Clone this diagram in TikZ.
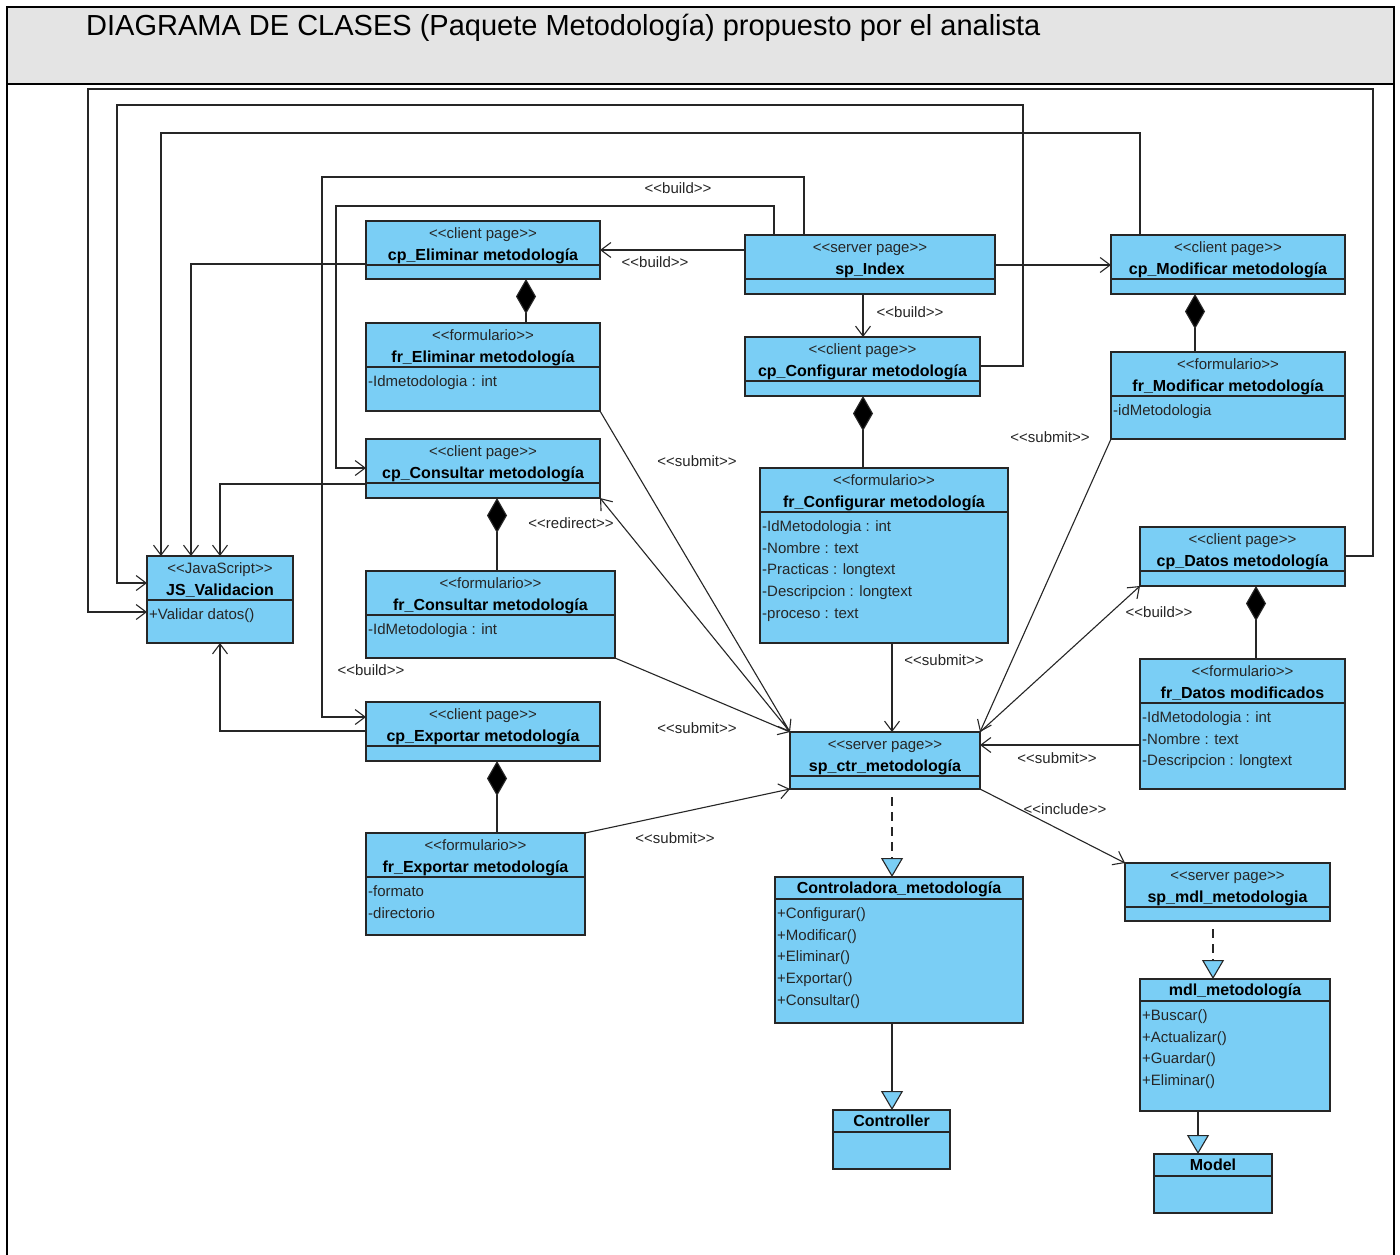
\documentclass[tikz,border=0pt]{standalone}
\usepackage{fontspec}
\setmainfont{Liberation Sans}
\usetikzlibrary{arrows.meta,calc}

\definecolor{classfill}{RGB}{122,206,245}
\definecolor{titlebar}{RGB}{228,228,228}
\definecolor{ink}{RGB}{38,38,38}

% stereotype brackets, kept as two separate angle brackets
\newcommand\guil[1]{<\kern0pt<#1>\kern0pt>}

\tikzset{
  classbox/.style={draw=ink, line width=1.4pt, fill=classfill, inner sep=0pt, outer sep=0pt},
  divline/.style={draw=ink, line width=1.2pt},
  stereo/.style={font=\fontsize{15}{18}\selectfont, anchor=base, inner sep=0pt, text=black!85},
  cname/.style={font=\fontsize{16}{19}\selectfont\bfseries, anchor=base, inner sep=0pt},
  member/.style={font=\fontsize{15}{18}\selectfont, anchor=base west, inner sep=0pt, text=black!85},
  conn/.style={draw=ink, line width=1.1pt},
  dep/.style={conn, -{Straight Barb[length=10pt,width=15pt,line width=1.1pt]}},
  comp/.style={conn, {Diamond[length=35pt,width=20pt,fill=black]}-},
  realize/.style={conn, dash pattern=on 9pt off 6pt, -{Triangle[fill=classfill,length=19pt,width=22pt,line width=1.1pt]}},
  general/.style={conn, -{Triangle[fill=classfill,length=19pt,width=22pt,line width=1.1pt]}},
  lbl/.style={font=\fontsize{15}{17}\selectfont, inner sep=0pt, text=black!85},
}

% \umlclass{name}{x1}{y1}{x2}{y2}{stereotype}{class name}{members, comma separated}
\newcommand\umlclass[8]{%
  \node[classbox, anchor=north west, minimum width={#4-#2}, minimum height={#5-#3}] (#1) at (#2,#3) {};
  \if\relax\detokenize{#6}\relax
    \def\umlnamey{16.5}\def\umldivy{22}%
  \else
    \def\umlnamey{39}\def\umldivy{44}%
    \node[stereo] (#1-st) at ($(#1.north)+(0,17)$) {\guil{#6}};
  \fi
  \node[cname] (#1-nm) at ($(#1.north)+(0,\umlnamey)$) {#7};
  \draw[divline] ($(#1.north west)+(0,\umldivy)$) -- ($(#1.north east)+(0,\umldivy)$);
  \if\relax\detokenize{#8}\relax\else
    \foreach \m [count=\i] in {#8}{%
      \node[member] (#1-m\i) at ($(#1.north west)+(2,{\umldivy+19.5+21.7*(\i-1)})$) {\m};
    }%
  \fi
}

\begin{document}
\begin{tikzpicture}[x=1pt,y=-1pt]
\useasboundingbox (0,0) rectangle (1400,1255);
\fill[white] (0,0) rectangle (1400,1255);

% frame and title bar
\fill[titlebar] (7,7) rectangle (1394,84);
\draw[line width=2pt] (7,7) rectangle (1394,1262);
\draw[line width=1.6pt] (7,84) -- (1394,84);
\node[anchor=base west, inner sep=0pt, font=\fontsize{29}{34}\selectfont] (title) at (86,36)
  {DIAGRAMA DE CLASES (Paquete Metodología) propuesto por el analista};

% classes
\umlclass{cpElim}{366}{221}{600}{279}{client page}{cp\_Eliminar metodología}{}
\umlclass{frElim}{366}{323}{600}{411}{formulario}{fr\_Eliminar metodología}{-Idmetodologia : int}
\umlclass{cpCons}{366}{439}{600}{498}{client page}{cp\_Consultar metodología}{}
\umlclass{frCons}{366}{571}{615}{658}{formulario}{fr\_Consultar metodología}{-IdMetodologia : int}
\umlclass{cpExp}{366}{702}{600}{761}{client page}{cp\_Exportar metodología}{}
\umlclass{frExp}{366}{833}{585}{935}{formulario}{fr\_Exportar metodología}{-formato,-directorio}
\umlclass{js}{147}{556}{293}{643}{JavaScript}{JS\_Validacion}{+Validar datos()}
\umlclass{spIndex}{745}{235}{995}{294}{server page}{sp\_Index}{}
\umlclass{cpConf}{745}{337}{980}{396}{client page}{cp\_Configurar metodología}{}
\umlclass{frConf}{760}{468}{1008}{643}{formulario}{fr\_Configurar metodología}{-IdMetodologia : int,-Nombre : text,-Practicas : longtext,-Descripcion : longtext,-proceso : text}
\umlclass{cpMod}{1111}{235}{1345}{294}{client page}{cp\_Modificar metodología}{}
\umlclass{frMod}{1111}{352}{1345}{439}{formulario}{fr\_Modificar metodología}{-idMetodologia}
\umlclass{cpDatos}{1140}{527}{1345}{586}{client page}{cp\_Datos metodología}{}
\umlclass{frDatos}{1140}{659}{1345}{789}{formulario}{fr\_Datos modificados}{-IdMetodologia : int,-Nombre : text,-Descripcion : longtext}
\umlclass{spCtr}{790}{732}{980}{789}{server page}{sp\_ctr\_metodología}{}
\umlclass{ctrl}{775}{877}{1023}{1023}{}{Controladora\_metodología}{+Configurar(),+Modificar(),+Eliminar(),+Exportar(),+Consultar()}
\umlclass{controller}{833}{1110}{950}{1169}{}{Controller}{}
\umlclass{spMdl}{1125}{863}{1330}{921}{server page}{sp\_mdl\_metodologia}{}
\umlclass{mdl}{1140}{979}{1330}{1111}{}{mdl\_metodología}{+Buscar(),+Actualizar(),+Guardar(),+Eliminar()}
\umlclass{model}{1154}{1154}{1272}{1213}{}{Model}{}

% links to the validation script
\draw[dep] (cpDatos.east |- 0,556) -- (1373,556) -- (1373,89) -- (88,89) -- (88,612) -- (js.west |- 0,612);
\draw[dep] (cpConf.east |- 0,366) -- (1023,366) -- (1023,105) -- (117,105) -- (117,583) -- (js.west |- 0,583);
\draw[dep] (cpMod.north -| 1140,0) -- (1140,133) -- (161,133) -- (js.north -| 161,0);
\draw[dep] (cpElim.west |- 0,264) -- (191,264) -- (js.north -| 191,0);
\draw[dep] (cpCons.west |- 0,484) -- (220,484) -- (js.north -| 220,0);
\draw[dep] (cpExp.west |- 0,731) -- (220,731) -- (js.south -| 220,0);

% pages built by sp_Index
\draw[dep] (spIndex.west |- 0,250) -- (cpElim.east |- 0,250);
\draw[dep] (spIndex.north -| 774,0) -- (774,206) -- (336,206) -- (336,468) -- (cpCons.west |- 0,468);
\draw[dep] (spIndex.north -| 804,0) -- (804,177) -- (322,177) -- (322,717) -- (cpExp.west |- 0,717);
\draw[dep] (spIndex.east |- 0,265) -- (cpMod.west |- 0,265);
\draw[dep] (spIndex.south -| 863,0) -- (cpConf.north -| 863,0);

% compositions
\draw[comp] (cpElim.south -| 526,0) -- (frElim.north -| 526,0);
\draw[comp] (cpCons.south -| 497,0) -- (frCons.north -| 497,0);
\draw[comp] (cpExp.south -| 497,0) -- (frExp.north -| 497,0);
\draw[comp] (cpConf.south -| 863,0) -- (frConf.north -| 863,0);
\draw[comp] (cpMod.south -| 1195,0) -- (frMod.north -| 1195,0);
\draw[comp] (cpDatos.south -| 1256,0) -- (frDatos.north -| 1256,0);

% submits, redirect, build and include around sp_ctr_metodologia
\draw[dep] (frElim.south east) -- (spCtr.north west);
\draw[dep] (spCtr.north west) -- (cpCons.south east);
\draw[dep] (frCons.south east) -- (spCtr.north west);
\draw[dep] (frExp.north east) -- (spCtr.south west);
\draw[dep] (frConf.south -| 892,0) -- (spCtr.north -| 892,0);
\draw[dep] (frMod.south west) -- (spCtr.north east);
\draw[dep] (spCtr.north east) -- (cpDatos.south west);
\draw[dep] (frDatos.west |- 0,745) -- (spCtr.east |- 0,745);
\draw[dep] (spCtr.south east) -- (spMdl.north west);

% realizations and generalizations
\draw[realize] ($(spCtr.south -| 892,0)+(0,8)$) -- (ctrl.north -| 892,0);
\draw[general] (ctrl.south -| 892,0) -- (controller.north -| 892,0);
\draw[realize] ($(spMdl.south -| 1213,0)+(0,8)$) -- (mdl.north -| 1213,0);
\draw[general] (mdl.south -| 1198,0) -- (model.north -| 1198,0);

% connector labels
\node[lbl] (l1) at (678,188) {\guil{build}};
\node[lbl] (l2) at (655,262) {\guil{build}};
\node[lbl] (l3) at (910,312) {\guil{build}};
\node[lbl] (l4) at (697,461) {\guil{submit}};
\node[lbl] (l5) at (571,523) {\guil{redirect}};
\node[lbl] (l6) at (371,670) {\guil{build}};
\node[lbl] (l7) at (697,728) {\guil{submit}};
\node[lbl] (l8) at (675,838) {\guil{submit}};
\node[lbl] (l9) at (944,660) {\guil{submit}};
\node[lbl] (l10) at (1050,437) {\guil{submit}};
\node[lbl] (l11) at (1159,612) {\guil{build}};
\node[lbl] (l12) at (1057,758) {\guil{submit}};
\node[lbl] (l13) at (1065,809) {\guil{include}};
\end{tikzpicture}
\end{document}
